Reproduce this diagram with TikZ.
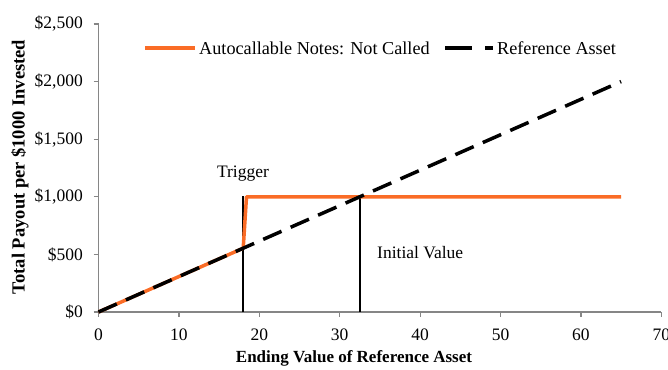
\documentclass[tikz,border=0pt]{standalone}
\usepackage{fontspec}
\setmainfont{Liberation Serif}
\definecolor{payorange}{RGB}{250,108,38}
\definecolor{axisgray}{RGB}{134,134,134}
\begin{document}
\begin{tikzpicture}[x=1pt,y=-1pt,
  font=\fontsize{17.5}{19}\selectfont,
  axisline/.style={axisgray, line width=1.2pt},
  tickline/.style={axisgray, line width=1.2pt},
  payline/.style={payorange, line width=3.5pt},
  refline/.style={black, line width=3.5pt, dash pattern=on 20pt off 10pt},
  legref/.style={black, line width=3.5pt, dash pattern=on 27pt off 13pt},
  markline/.style={black, line width=1.8pt},
  lbl/.style={inner sep=0pt},
  legtext/.style={inner sep=0pt, font=\fontsize{18.2}{20}\selectfont},
  axtitle/.style={inner sep=0pt, font=\fontsize{17}{19}\selectfont\bfseries}]
\useasboundingbox (0,0) rectangle (668,369);
% axes
\coordinate (org) at (98.5,312);
\coordinate (ytop) at (98.5,24);
\coordinate (xend) at (661,312);
\draw[axisline] (ytop) -- (org) -- (xend);
\foreach \v/\lab in {0/\$0,500/\$500,1000/{\$1,000},1500/{\$1,500},2000/{\$2,000},2500/{\$2,500}}{
  \pgfmathsetmacro{\yy}{312-0.1152*\v}
  \draw[tickline] (93.5,\yy) -- (98.5,\yy);
  \node[lbl, anchor=east] (yl\v) at (83,\yy) {\lab};
}
\foreach \v in {0,10,20,30,40,50,60,70}{
  \pgfmathsetmacro{\xx}{98.5+8.04*\v}
  \draw[tickline] (\xx,312) -- (\xx,317);
  \node[lbl, anchor=north] (xl\v) at (\xx,329) {\v};
}
\node[axtitle, rotate=90, font=\fontsize{18.5}{20}\selectfont\bfseries] (ytitle) at (20,167) {Total Payout per \$1000 Invested};
\node[axtitle] (xtitle) at (354,358) {Ending Value of Reference Asset};
% key points
\coordinate (trigbase) at (243.2,312);
\coordinate (trigtop) at (243.2,195.5);
\coordinate (initbase) at (359.8,312);
\coordinate (inittop) at (359.8,196.8);
\coordinate (tlow) at (243.2,248.2);
\coordinate (thigh) at (246.5,196.8);
\coordinate (pend) at (621.1,196.8);
\coordinate (rend) at (621.1,81.6);
% marker lines
\draw[markline] (trigbase) -- (trigtop);
\draw[markline] (initbase) -- (inittop);
% payout
\draw[payline, line join=round] (org) -- (tlow) -- (thigh) -- (pend);
% reference asset
\draw[refline] (org) -- (rend);
% labels
\node[lbl] (trig) at (243,174) {Trigger};
\node[lbl, anchor=west] (initv) at (377,253) {Initial Value};
% legend
\coordinate (l1a) at (145,48);
\coordinate (l1b) at (195,48);
\draw[payline] (l1a) -- (l1b);
\node[legtext, anchor=west] (leg1) at (199,48) {Autocallable Notes: Not Called};
\coordinate (l2a) at (445,48);
\coordinate (l2b) at (493,48);
\draw[legref] (l2a) -- (l2b);
\node[legtext, anchor=west] (leg2) at (497,48) {Reference Asset};
\end{tikzpicture}
\end{document}
